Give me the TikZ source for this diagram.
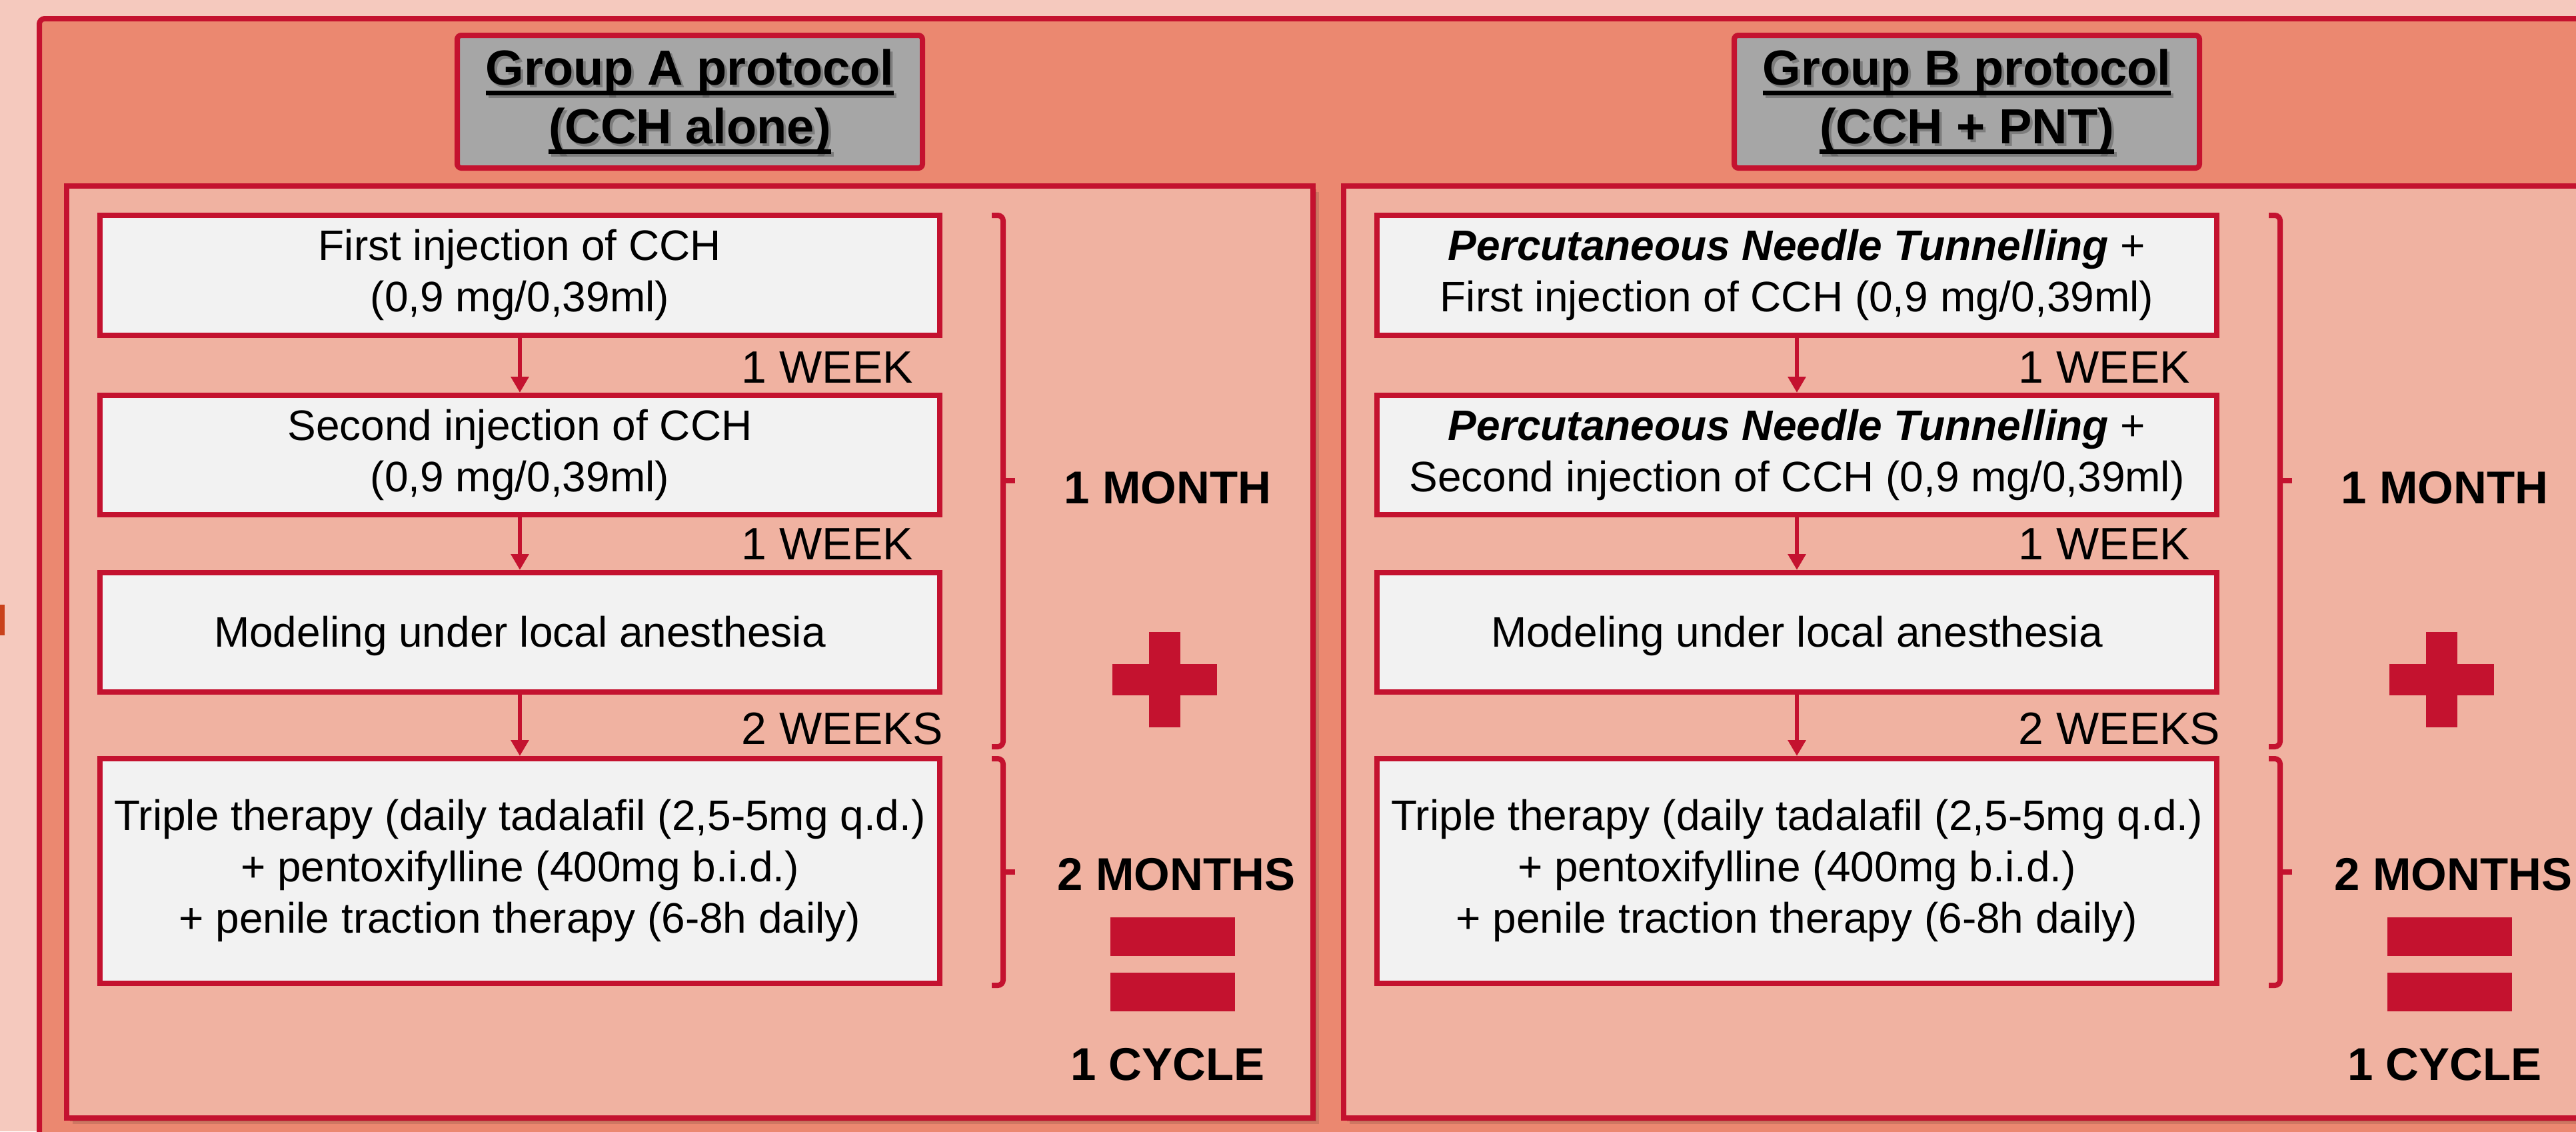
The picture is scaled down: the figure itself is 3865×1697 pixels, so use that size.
\documentclass[tikz,border=0pt]{standalone}
\usepackage{fontspec}
\setmainfont{Liberation Sans}
\usetikzlibrary{arrows.meta}
\definecolor{bgpink}{HTML}{F5C9BE}
\definecolor{frameor}{HTML}{EB8870}
\definecolor{panelpk}{HTML}{F0B2A1}
\definecolor{boxgray}{HTML}{F2F2F2}
\definecolor{redline}{HTML}{C4122F}
\definecolor{hdrgray}{HTML}{A6A6A6}
\definecolor{markor}{HTML}{C9411B}
\newsavebox\hulbox
\newcommand\hul[1]{\sbox\hulbox{#1}\rlap{\rule[-4pt]{\wd\hulbox}{1.75pt}}\usebox\hulbox}
\newcommand\lnstrut{\rule[-0.212em]{0pt}{1.117em}}
\begin{document}
\begin{tikzpicture}[x=0.25pt,y=-0.25pt,
  stepbox/.style={draw=redline, line width=2pt, fill=boxgray, inner sep=0pt, align=center, minimum width=315pt, font=\fontsize{16}{19.25}\selectfont, execute at begin node=\lnstrut, execute at end node=\lnstrut},
  hdrbox/.style={draw=redline, line width=2pt, fill=hdrgray, rounded corners=1.5pt, minimum width=174.5pt, minimum height=49.75pt, inner sep=0pt},
  hdrtext/.style={align=center, inner sep=0pt, font=\fontsize{18.5}{22}\selectfont\bfseries, execute at begin node=\lnstrut, execute at end node=\lnstrut},
  flow/.style={draw=redline, line width=1.5pt, -{Triangle[width=6.5pt,length=6pt]}},
  wklabel/.style={anchor=base west, inner sep=0pt, font=\fontsize{17}{20}\selectfont},
  sidelabel/.style={anchor=base, inner sep=0pt, font=\fontsize{17.25}{20}\selectfont\bfseries},
  bracket/.style={draw=redline, line width=2pt, rounded corners=2pt},
  panel/.style={draw=redline, line width=2pt, fill=panelpk},
  symb/.style={fill=redline}
]
\useasboundingbox (0,0) rectangle (3865,1697);
\clip (0,0) rectangle (3865,1697);
% background
\fill[bgpink] (0,0) rectangle (3865,1697);
\fill[markor] (0,907) rectangle (7,953);
% outer frame
\draw[redline, line width=2pt, fill=frameor, rounded corners=2pt] (59,28) rectangle (3940,1760);
% headers
\node[hdrbox] (hA) at (1035,152.5) {};
\node[hdrtext, text=black!70, opacity=0.45] at ([shift={(4,4)}]hA.center) {\hul{Group A protocol}\\\hul{(CCH alone)}};
\node[hdrtext] (hAt) at (hA.center) {\hul{Group A protocol}\\\hul{(CCH alone)}};
\node[hdrbox] (hB) at (2951,152.5) {};
\node[hdrtext, text=black!70, opacity=0.45] at ([shift={(4,4)}]hB.center) {\hul{Group B protocol}\\\hul{(CCH + PNT)}};
\node[hdrtext] (hBt) at (hB.center) {\hul{Group B protocol}\\\hul{(CCH + PNT)}};
% panel shadows
\foreach \dx in {0,1916}{
  \fill[black, opacity=0.12] (100+\dx+9,279+9) rectangle (1970+\dx+9,1677+9);
  \fill[black, opacity=0.18] (100+\dx+5,279+5) rectangle (1970+\dx+5,1677+5);
}
% panels
\draw[panel] (100,279) rectangle (1970,1677);
\draw[panel] (2016,279) rectangle (3886,1677);

% ---------- Group A ----------
\node[stepbox, minimum height=45pt] (a1) at (780,413) {First injection of CCH\\(0,9 mg/0,39ml)};
\node[stepbox, minimum height=44.75pt] (a2) at (780,682.5) {Second injection of CCH\\(0,9 mg/0,39ml)};
\node[stepbox, minimum height=44.75pt] (a3) at (780,948.5) {Modeling under local anesthesia};
\node[stepbox, minimum height=84.25pt] (a4) at (780,1306.5) {Triple therapy (daily tadalafil (2,5-5mg q.d.)\\+ pentoxifylline (400mg b.i.d.)\\+ penile traction therapy (6-8h daily)};
\draw[flow] (a1) -- (a2);
\draw[flow] (a2) -- (a3);
\draw[flow] (a3) -- (a4);
\node[wklabel] (aw1) at (1112,574) {1 WEEK};
\node[wklabel] (aw2) at (1112,839) {1 WEEK};
\node[wklabel] (aw3) at (1112,1116) {2 WEEKS};
\draw[bracket] (1488,323) -- (1505,323) -- (1505,1120) -- (1488,1120);
\draw[redline, line width=2pt] (1505,721) -- (1523,721);
\draw[bracket] (1488,1138) -- (1505,1138) -- (1505,1478) -- (1488,1478);
\draw[redline, line width=2pt] (1505,1308) -- (1523,1308);
\node[sidelabel] (am1) at (1752,755) {1 MONTH};
\fill[symb] (1724,948) rectangle (1771,1091);
\fill[symb] (1669,996) rectangle (1826,1043);
\node[sidelabel] (am2) at (1765,1335) {2 MONTHS};
\fill[symb] (1666,1376) rectangle (1853,1434);
\fill[symb] (1666,1459) rectangle (1853,1517);
\node[sidelabel] (acy) at (1752,1620) {1 CYCLE};

% ---------- Group B ----------
\begin{scope}[xshift=479pt]
\node[stepbox, minimum height=45pt] (b1) at (780,413) {\textbf{\textit{Percutaneous Needle Tunnelling}} +\\First injection of CCH (0,9 mg/0,39ml)};
\node[stepbox, minimum height=44.75pt] (b2) at (780,682.5) {\textbf{\textit{Percutaneous Needle Tunnelling}} +\\Second injection of CCH (0,9 mg/0,39ml)};
\node[stepbox, minimum height=44.75pt] (b3) at (780,948.5) {Modeling under local anesthesia};
\node[stepbox, minimum height=84.25pt] (b4) at (780,1306.5) {Triple therapy (daily tadalafil (2,5-5mg q.d.)\\+ pentoxifylline (400mg b.i.d.)\\+ penile traction therapy (6-8h daily)};
\draw[flow] (b1) -- (b2);
\draw[flow] (b2) -- (b3);
\draw[flow] (b3) -- (b4);
\node[wklabel] (bw1) at (1112,574) {1 WEEK};
\node[wklabel] (bw2) at (1112,839) {1 WEEK};
\node[wklabel] (bw3) at (1112,1116) {2 WEEKS};
\draw[bracket] (1488,323) -- (1505,323) -- (1505,1120) -- (1488,1120);
\draw[redline, line width=2pt] (1505,721) -- (1523,721);
\draw[bracket] (1488,1138) -- (1505,1138) -- (1505,1478) -- (1488,1478);
\draw[redline, line width=2pt] (1505,1308) -- (1523,1308);
\node[sidelabel] (bm1) at (1752,755) {1 MONTH};
\fill[symb] (1724,948) rectangle (1771,1091);
\fill[symb] (1669,996) rectangle (1826,1043);
\node[sidelabel] (bm2) at (1765,1335) {2 MONTHS};
\fill[symb] (1666,1376) rectangle (1853,1434);
\fill[symb] (1666,1459) rectangle (1853,1517);
\node[sidelabel] (bcy) at (1752,1620) {1 CYCLE};
\end{scope}
\end{tikzpicture}
\end{document}
